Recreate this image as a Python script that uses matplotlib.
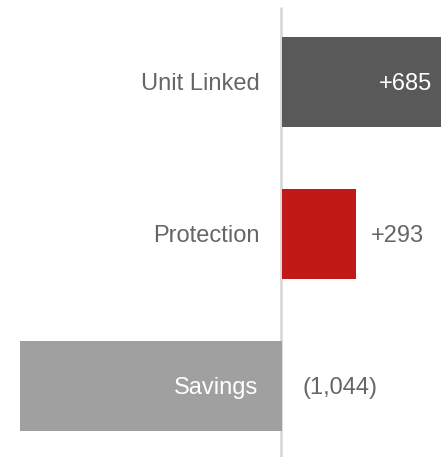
import matplotlib
matplotlib.use("Agg")
import matplotlib.pyplot as plt

categories = ["Unit Linked", "Protection", "Savings"]
values = [685, 293, -1044]
value_labels = ["+685", "+293", "(1,044)"]
colors = ["#595959", "#c01916", "#a0a0a0"]

plt.rcParams['font.family'] = ['Liberation Sans', 'DejaVu Sans']

fig = plt.figure(figsize=(4.41, 4.57), dpi=100)
ax = fig.add_axes([0, 0, 1, 1])

scale = 0.251  # px per unit
ax.set_xlim(-282 / scale, (441 - 282) / scale)
ypos = list(range(len(categories)))
ax.set_ylim(2 + 71 / 152, -82 / 152)

ax.barh(ypos, values, height=90 / 152, color=colors, zorder=3)
ax.vlines(-2, -75 / 152, 2 + 71 / 152, color="#d9d9d9", lw=2, zorder=2)

fs = 17
txt = "#666666"
dy = -1.2
for y, v, cat, lab in zip(ypos, values, categories, value_labels):
    if v >= 0:
        ax.annotate(cat, (0, y), xytext=(-16, dy), textcoords="offset points",
                    ha="right", va="center", fontsize=fs, color=txt)
        if v > 500:
            ax.annotate(lab, (v, y), xytext=(-16, dy), textcoords="offset points",
                        ha="right", va="center", fontsize=fs, color="white",
                        annotation_clip=False, zorder=5)
        else:
            ax.annotate(lab, (v, y), xytext=(11, dy), textcoords="offset points",
                        ha="left", va="center", fontsize=fs, color=txt)
    else:
        ax.annotate(cat, (0, y), xytext=(-17, dy), textcoords="offset points",
                    ha="right", va="center", fontsize=fs, color="white", zorder=5)
        ax.annotate(lab, (0, y), xytext=(15, dy), textcoords="offset points",
                    ha="left", va="center", fontsize=fs, color=txt)

ax.axis("off")
fig.savefig("out.png", dpi=100)
